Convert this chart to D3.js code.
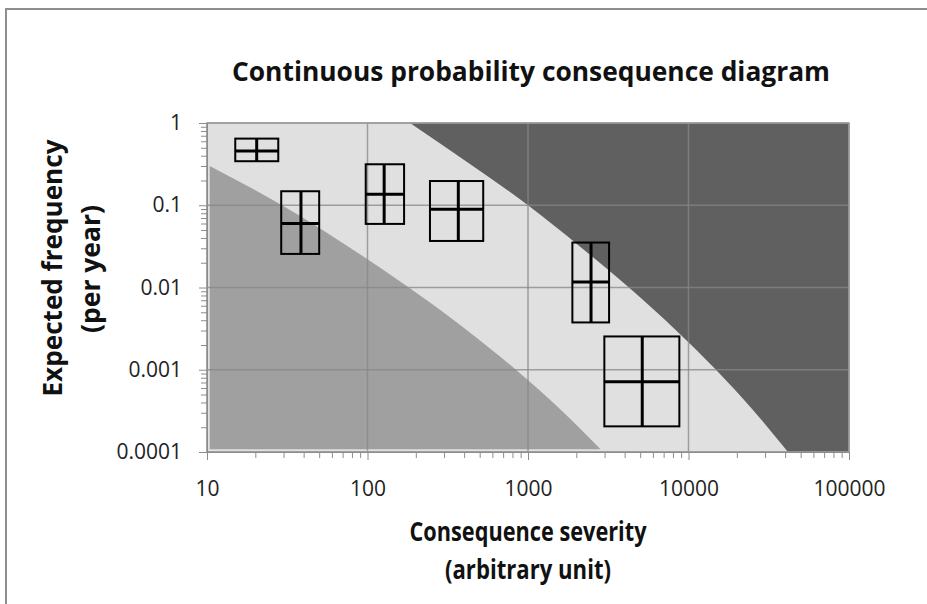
<!DOCTYPE html>
<html>
<head>
<meta charset="utf-8">
<script src="https://cdn.jsdelivr.net/npm/d3@7"></script>
<style>
  body { margin: 0; background: #fff; }
  .axis text { font-family: "Open Sans", sans-serif; font-size: 21px; fill: #222; }
  .axis path, .axis line { stroke: #8c8c8c; }
  .chartTitle { font-family: "Open Sans", sans-serif; font-weight: bold; font-size: 26px; fill: #111; }
</style>
</head>
<body>
<div id="chart"></div>
<script>
  "use strict";

  // tick labels
  const xTicks = [10, 100, 1000, 10000, 100000];
  const xTickLabels = ["10", "100", "1000", "10000", "100000"];
  const yTicks = [0.0001, 0.001, 0.01, 0.1, 1];
  const yTickLabels = ["0.0001", "0.001", "0.01", "0.1", "1"];

  // edge of the dark (upper right) region
  const highSeverity = [184, 437, 1000, 2104, 4256, 8166, 14830, 25530, 41690];
  const highFrequency = [1, 0.316, 0.1, 0.0316, 0.01, 0.00316, 0.001, 0.000316, 0.0001];

  // edge of the mid grey (lower left) region
  const lowSeverity = [10.4, 29.3, 75.6, 181, 405, 841, 1630, 2830];
  const lowFrequency = [0.3, 0.1, 0.0316, 0.01, 0.00316, 0.001, 0.000316, 0.000108];
  const lowFloor = 0.000108;

  // risk boxes: severity and frequency ranges, with the middle value
  const boxSevLow = [15, 29, 97.5, 245, 1890, 2990];
  const boxSevMid = [20.4, 38.5, 127, 368, 2470, 5150];
  const boxSevHigh = [27.8, 50, 169, 526, 3200, 8770];
  const boxFreqLow = [0.343, 0.0256, 0.0593, 0.0368, 0.00376, 0.000205];
  const boxFreqMid = [0.457, 0.06, 0.136, 0.0894, 0.0117, 0.000713];
  const boxFreqHigh = [0.646, 0.148, 0.315, 0.197, 0.0352, 0.00254];

  const svgWidth = 927, svgHeight = 604;
  const margin = { top: 123, left: 207, right: 78, bottom: 152 },
    width = svgWidth - margin.left - margin.right,
    height = svgHeight - margin.top - margin.bottom;

  const root = d3
    .select("#chart")
    .append("svg")
    .attr("width", svgWidth)
    .attr("height", svgHeight);

  // chart frame (runs off the right and bottom edges)
  root
    .append("rect")
    .attr("x", 6)
    .attr("y", 9)
    .attr("width", 1000)
    .attr("height", 800)
    .attr("fill", "#fff")
    .attr("stroke", "#8e8e8e")
    .attr("stroke-width", 2);

  const svg = root
    .append("g")
    .attr("transform", "translate(" + margin.left + "," + margin.top + ")");

  const x = d3.scaleLog().domain([10, 100000]).range([0, width]);
  const y = d3.scaleLog().domain([0.0001, 1]).range([height, 0]);

  // plot background
  svg
    .append("rect")
    .attr("width", width)
    .attr("height", height)
    .attr("fill", "#e0e0e0");

  // dark region: curved edge, then everything right of its last point
  const highData = highSeverity.map((s, i) => [s, highFrequency[i]]);
  svg
    .append("path")
    .datum(highData)
    .attr("fill", "#606060")
    .attr(
      "d",
      d3
        .area()
        .x((d) => x(d[0]))
        .y0((d) => y(d[1]))
        .y1(y(1))
        .curve(d3.curveMonotoneX)
    );
  const lastHigh = highSeverity[highSeverity.length - 1];
  svg
    .append("rect")
    .attr("x", x(lastHigh) - 0.5)
    .attr("width", width - x(lastHigh) + 0.5)
    .attr("height", height)
    .attr("fill", "#606060");

  // mid grey region
  const lowData = lowSeverity.map((s, i) => [s, lowFrequency[i]]);
  svg
    .append("path")
    .datum(lowData)
    .attr("fill", "#a0a0a0")
    .attr(
      "d",
      d3
        .area()
        .x((d) => x(d[0]))
        .y0(y(lowFloor))
        .y1((d) => y(d[1]))
        .curve(d3.curveMonotoneX)
    );

  // gridlines
  svg
    .selectAll(".vgrid")
    .data(xTicks)
    .enter()
    .append("line")
    .attr("x1", (d) => x(d))
    .attr("x2", (d) => x(d))
    .attr("y1", 0)
    .attr("y2", height)
    .attr("stroke", "#878787")
    .attr("stroke-opacity", 0.75)
    .attr("stroke-width", 1.5);
  svg
    .selectAll(".hgrid")
    .data(yTicks)
    .enter()
    .append("line")
    .attr("x1", 0)
    .attr("x2", width)
    .attr("y1", (d) => y(d))
    .attr("y2", (d) => y(d))
    .attr("stroke", "#878787")
    .attr("stroke-opacity", 0.75)
    .attr("stroke-width", 1.5);

  // plot border
  svg
    .append("rect")
    .attr("width", width)
    .attr("height", height)
    .attr("fill", "none")
    .attr("stroke", "#9c9c9c")
    .attr("stroke-width", 1.5);

  // minor ticks
  const xMinor = x.ticks().filter((d) => !xTicks.includes(d));
  const yMinor = y.ticks().filter((d) => !yTicks.some((t) => Math.abs(t - d) < d * 1e-6));
  svg
    .append("g")
    .attr("class", "axis")
    .attr("transform", "translate(0," + height + ")")
    .call(d3.axisBottom(x).tickValues(xMinor).tickSize(6).tickFormat(""));
  svg
    .append("g")
    .attr("class", "axis")
    .call(d3.axisLeft(y).tickValues(yMinor).tickSize(6).tickFormat(""));

  // major ticks and labels
  svg
    .append("g")
    .attr("class", "axis")
    .attr("transform", "translate(0," + height + ")")
    .call(
      d3
        .axisBottom(x)
        .tickValues(xTicks)
        .tickSize(8)
        .tickPadding(21)
        .tickFormat((d, i) => xTickLabels[i])
    );
  svg
    .append("g")
    .attr("class", "axis")
    .call(
      d3
        .axisLeft(y)
        .tickValues(yTicks)
        .tickSize(8)
        .tickPadding(17)
        .tickFormat((d, i) => yTickLabels[i])
    );

  // risk boxes
  const boxes = svg
    .selectAll(".box")
    .data(boxSevMid)
    .enter()
    .append("g")
    .attr("class", "box");
  boxes
    .append("rect")
    .attr("x", (d, i) => x(boxSevLow[i]))
    .attr("y", (d, i) => y(boxFreqHigh[i]))
    .attr("width", (d, i) => x(boxSevHigh[i]) - x(boxSevLow[i]))
    .attr("height", (d, i) => y(boxFreqLow[i]) - y(boxFreqHigh[i]))
    .attr("fill", "none")
    .attr("stroke", "#000")
    .attr("stroke-width", 2);
  boxes
    .append("line")
    .attr("x1", (d) => x(d))
    .attr("x2", (d) => x(d))
    .attr("y1", (d, i) => y(boxFreqHigh[i]))
    .attr("y2", (d, i) => y(boxFreqLow[i]))
    .attr("stroke", "#000")
    .attr("stroke-width", 3);
  boxes
    .append("line")
    .attr("x1", (d, i) => x(boxSevLow[i]))
    .attr("x2", (d, i) => x(boxSevHigh[i]))
    .attr("y1", (d, i) => y(boxFreqMid[i]))
    .attr("y2", (d, i) => y(boxFreqMid[i]))
    .attr("stroke", "#000")
    .attr("stroke-width", 3);

  // titles
  function addText(text, tx, ty, length, rotate) {
    root
      .append("text")
      .attr("class", "chartTitle")
      .attr("transform", "translate(" + tx + "," + ty + ")" + (rotate ? " rotate(-90)" : ""))
      .attr("text-anchor", "middle")
      .attr("textLength", length)
      .attr("lengthAdjust", "spacingAndGlyphs")
      .text(text);
  }
  addText("Continuous probability consequence diagram", 531, 81, 598, false);
  addText("Consequence severity", 528, 541, 237, false);
  addText("(arbitrary unit)", 528, 579, 166, false);
  addText("Expected frequency", 62, 268, 257, true);
  addText("(per year)", 100, 269, 128, true);
</script>
</body>
</html>
